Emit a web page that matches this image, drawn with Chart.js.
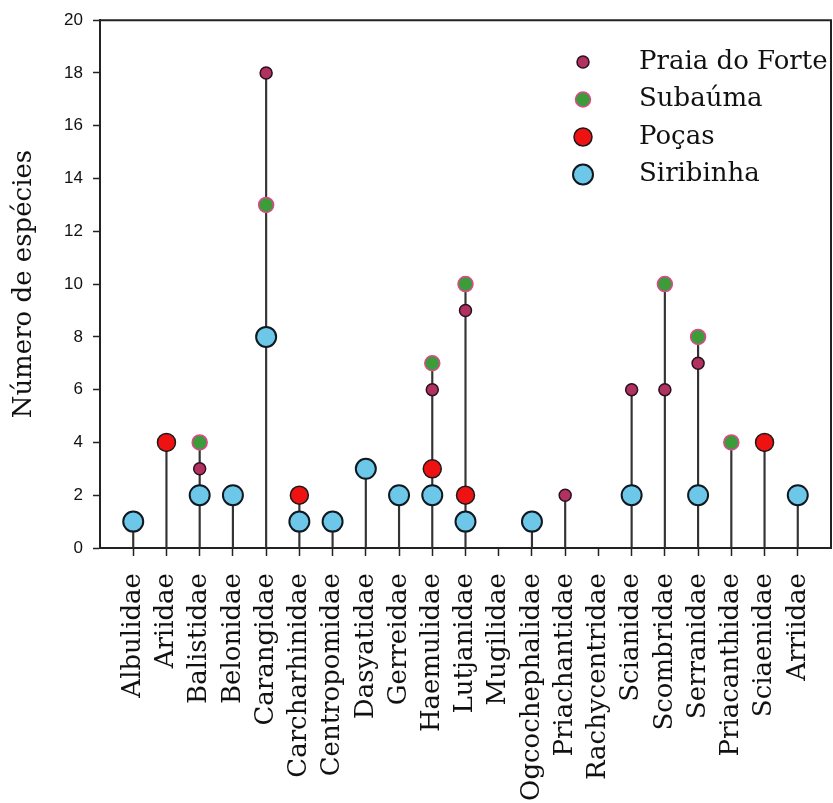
<!DOCTYPE html>
<html>
<head>
<meta charset="utf-8">
<script src="https://cdn.jsdelivr.net/npm/chart.js@4"></script>
<style>
  body { margin: 0; background: #fff; }
</style>
</head>
<body>
<canvas id="familyChart" width="833" height="803"></canvas>
<script>
const families = ['Albulidae', 'Ariidae', 'Balistidae', 'Belonidae', 'Carangidae', 'Carcharhinidae',
  'Centropomidae', 'Dasyatidae', 'Gerreidae', 'Haemulidae', 'Lutjanidae', 'Mugilidae',
  'Ogcochephalidae', 'Priachantidae', 'Rachycentridae', 'Scianidae', 'Scombridae', 'Serranidae',
  'Priacanthidae', 'Sciaenidae', 'Arriidae'];

// species per family for each site (null = not recorded)
const praiaDoForte = [null, null, 3, null, 18, null, null, null, null, 6, 9, null, null, 2, null, 6, 6, 7, null, null, null];
const subauma      = [null, null, 4, null, 13, null, null, null, null, 7, 10, null, null, null, null, null, 10, 8, 4, null, null];
const pocas        = [null, 4, null, null, null, 2, null, null, null, 3, 2, null, null, null, null, null, null, null, null, 4, null];
const siribinha    = [1, null, 2, 2, 8, 1, 1, 3, 2, 2, 1, null, 1, null, null, 2, null, 2, null, null, 2];

const yTicks = [0, 2, 4, 6, 8, 10, 12, 14, 16, 18, 20];

const serif = 'DejaVu Serif';

function toPoints(arr) {
  return arr.map((v, i) => ({ x: i + 1, y: v })).filter(p => p.y !== null);
}

// stem height = highest count recorded in that family
const stems = families.map((f, i) => {
  const vals = [praiaDoForte[i], subauma[i], pocas[i], siribinha[i]].filter(v => v !== null);
  return vals.length ? Math.max(...vals) : null;
});

const series = [
  { label: 'Praia do Forte', data: praiaDoForte, fill: '#b2325f', border: '#2a1020', radius: 6, bw: 1.5 },
  { label: 'Subaúma',        data: subauma,      fill: '#3c9c3a', border: '#e0478f', radius: 7.5, bw: 1.5 },
  { label: 'Poças',          data: pocas,        fill: '#ee1212', border: '#1a1a1a', radius: 9, bw: 1.5 },
  { label: 'Siribinha',      data: siribinha,    fill: '#6cc7e8', border: '#101820', radius: 10, bw: 2 },
];

const datasets = series.map((s, i) => ({
  type: 'scatter',
  label: s.label,
  data: toPoints(s.data),
  backgroundColor: s.fill,
  borderColor: s.border,
  pointRadius: s.radius,
  pointHoverRadius: s.radius,
  pointBorderWidth: s.bw,
  showLine: false,
  clip: false,
  order: i + 1,
}));

datasets.push({
  type: 'bar',
  label: 'stem',
  data: toPoints(stems),
  backgroundColor: '#333',
  barThickness: 1.5,
  order: 10,
});

// box round the plot area (top and right edges)
const frame = {
  id: 'frame',
  afterDraw(chart) {
    const { ctx, chartArea: a } = chart;
    ctx.save();
    ctx.strokeStyle = '#222';
    ctx.lineWidth = 2;
    ctx.beginPath();
    ctx.moveTo(a.left, a.top);
    ctx.lineTo(a.right, a.top);
    ctx.lineTo(a.right, a.bottom);
    ctx.stroke();
    ctx.restore();
  }
};

// legend sits inside the plot, top right
const insideLegend = {
  id: 'insideLegend',
  afterDraw(chart) {
    const ctx = chart.ctx;
    ctx.save();
    ctx.font = '26px "' + serif + '"';
    ctx.textBaseline = 'middle';
    ctx.fillStyle = '#111';
    series.forEach((s, i) => {
      const y = 62 + i * 37.5;
      ctx.beginPath();
      ctx.arc(583, y, s.radius, 0, Math.PI * 2);
      ctx.fillStyle = s.fill;
      ctx.fill();
      ctx.lineWidth = s.bw;
      ctx.strokeStyle = s.border;
      ctx.stroke();
      ctx.fillStyle = '#111';
      ctx.fillText(s.label, 639, y);
    });
    ctx.restore();
  }
};

const ctx = document.getElementById('familyChart').getContext('2d');

const familyChart = new Chart(ctx, {
  type: 'scatter',
  data: { datasets: datasets },
  options: {
    responsive: false,
    animation: false,
    events: [],
    layout: { autoPadding: false, padding: { top: 20, right: 2, left: 0, bottom: 0 } },
    plugins: {
      legend: { display: false },
      tooltip: { enabled: false }
    },
    scales: {
      x: {
        type: 'linear',
        min: 0,
        max: 22,
        offset: false,
        afterBuildTicks: (scale) => {
          scale.ticks = families.map((f, i) => ({ value: i + 1 }));
        },
        afterFit: (scale) => {
          scale.height = 255;
          scale.paddingLeft = 0;
          scale.paddingRight = 0;
        },
        ticks: {
          autoSkip: false,
          maxRotation: 90,
          minRotation: 90,
          padding: 17,
          color: '#111',
          font: { family: serif, size: 26 },
          callback: (v) => families[v - 1]
        },
        grid: { offset: false, drawOnChartArea: false, tickLength: 8, tickColor: '#222', tickWidth: 1.5 },
        border: { display: true, color: '#222', width: 2 }
      },
      y: {
        min: 0,
        max: 20,
        afterBuildTicks: (scale) => {
          scale.ticks = yTicks.map(v => ({ value: v }));
        },
        afterFit: (scale) => { scale.width = 100; },
        ticks: {
          padding: 10,
          color: '#111',
          font: { family: 'Liberation Sans', size: 17 }
        },
        grid: { drawOnChartArea: false, tickLength: 7, tickColor: '#222', tickWidth: 1.5 },
        border: { display: true, color: '#222', width: 2 },
        title: {
          display: true,
          text: 'Número de espécies',
          color: '#111',
          font: { family: serif, size: 26 },
          padding: { top: 9, bottom: 4 }
        }
      }
    }
  },
  plugins: [frame, insideLegend]
});
</script>
</body>
</html>
